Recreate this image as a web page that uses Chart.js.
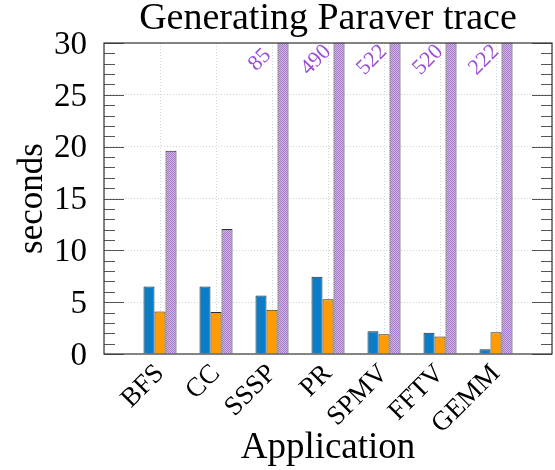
<!DOCTYPE html>
<html>
<head>
<meta charset="utf-8">
<script src="https://cdn.jsdelivr.net/npm/chart.js@4/dist/chart.umd.min.js"></script>
<style>
  html, body { margin: 0; padding: 0; background: #fff; }
  #wrap { width: 555px; height: 470px; }
</style>
</head>
<body>
<div id="wrap"><canvas id="c" width="555" height="470"></canvas></div>
<script>
// Applications on the x axis
const applications = ['BFS', 'CC', 'SSSP', 'PR', 'SPMV', 'FFTV', 'GEMM'];
// Time per application (seconds), three measurements each
const seriesBlue   = [6.5, 6.5, 5.65, 7.45, 2.2, 2.05, 0.45];
const seriesOrange = [4.1, 4.05, 4.27, 5.27, 1.9, 1.7, 2.1];
const seriesPurple = [19.6, 12.05, 85, 490, 522, 520, 222];
// y axis range and major ticks
const yMin = 0, yMax = 30;
const yMajorTicks = [0, 5, 10, 15, 20, 25, 30];

const SERIF = '"Liberation Serif", "Times New Roman", serif';

// Pad the category list with an empty slot on each side so the groups sit inside the frame
const paddedLabels = [''].concat(applications, ['']);
const pad = arr => [null].concat(arr, [null]);

// Dotted lavender fill for the third series
function makePattern() {
  const p = document.createElement('canvas');
  p.width = 2; p.height = 2;
  const g = p.getContext('2d');
  g.fillStyle = '#d3b5ea';
  g.fillRect(0, 0, 2, 2);
  g.fillStyle = '#a47ac9';
  g.fillRect(0, 0, 1, 1);
  g.fillRect(1, 1, 1, 1);
  return document.getElementById('c').getContext('2d').createPattern(p, 'repeat');
}

// Frame, inward minor/major ticks on both vertical sides
const framePlugin = {
  id: 'frame',
  afterDatasetsDraw(chart) {
    const { ctx, chartArea: a, scales } = chart;
    const y = scales.y;
    ctx.save();
    ctx.strokeStyle = '#555';
    ctx.lineWidth = 1.2;
    for (let v = yMin; v <= yMax; v++) {
      const py = Math.round(y.getPixelForValue(v)) + 0.5;
      const len = (v % 5 === 0) ? 20 : 11;
      ctx.beginPath();
      ctx.moveTo(a.left, py); ctx.lineTo(a.left + len, py);
      ctx.moveTo(a.right, py); ctx.lineTo(a.right - len, py);
      ctx.stroke();
    }
    ctx.strokeStyle = '#333';
    ctx.lineWidth = 1.2;
    ctx.strokeRect(a.left, a.top, a.right - a.left, a.bottom - a.top);
    ctx.restore();
  }
};

// Value labels for bars that run past the top of the axis
const overflowLabels = {
  id: 'overflowLabels',
  afterDatasetsDraw(chart) {
    const { ctx, chartArea: a } = chart;
    const meta = chart.getDatasetMeta(2);
    const data = chart.data.datasets[2].data;
    ctx.save();
    ctx.fillStyle = '#9b4fd4';
    ctx.font = '22px ' + SERIF;
    ctx.textAlign = 'center';
    ctx.textBaseline = 'middle';
    meta.data.forEach((bar, i) => {
      const v = data[i];
      if (v == null || v <= yMax) return;
      ctx.save();
      ctx.translate(bar.x - 23, a.top + 17);
      ctx.rotate(-Math.PI / 4);
      ctx.fillText(String(v), 0, 0);
      ctx.restore();
    });
    ctx.restore();
  }
};

const barCommon = {
  borderColor: '#2b2b2b',
  borderWidth: 1,
  barPercentage: 1,
  categoryPercentage: 0.59
};

new Chart(document.getElementById('c'), {
  type: 'bar',
  data: {
    labels: paddedLabels,
    datasets: [
      Object.assign({ label: 'Series 1', data: pad(seriesBlue), backgroundColor: '#0a7dc6' }, barCommon),
      Object.assign({ label: 'Series 2', data: pad(seriesOrange), backgroundColor: '#ff9b05' }, barCommon),
      Object.assign({ label: 'Series 3', data: pad(seriesPurple), backgroundColor: makePattern() }, barCommon)
    ]
  },
  options: {
    responsive: false,
    animation: false,
    layout: { padding: { left: 0, right: 3, top: 0, bottom: 0 } },
    plugins: {
      legend: { display: false },
      tooltip: { enabled: false },
      title: {
        display: true,
        fullSize: false,
        text: 'Generating Paraver trace',
        color: '#000',
        font: { family: SERIF, size: 38, weight: 'normal', lineHeight: 1.0 },
        padding: { top: 0, bottom: 5 }
      }
    },
    scales: {
      x: {
        type: 'category',
        offset: false,
        grid: { offset: false, color: '#d4d4d4', drawTicks: false },
        border: { display: false, dash: [1, 2] },
        ticks: {
          autoSkip: false,
          minRotation: 45,
          maxRotation: 45,
          padding: 4,
          color: '#000',
          font: { family: SERIF, size: 27 }
        },
        title: {
          display: true,
          text: 'Application',
          color: '#000',
          font: { family: SERIF, size: 37 },
          padding: { top: 0, bottom: 0 }
        },
        afterFit(scale) {
          scale.height = 116;
          scale.paddingLeft = 0;
          scale.paddingRight = 0;
        }
      },
      y: {
        min: yMin,
        max: yMax,
        afterBuildTicks(scale) { scale.ticks = yMajorTicks.map(v => ({ value: v })); },
        grid: { color: ctx => (ctx.tick && ctx.tick.value > yMin && ctx.tick.value < yMax) ? '#d4d4d4' : 'rgba(0,0,0,0)', drawTicks: false },
        border: { display: false, dash: [1, 2] },
        ticks: {
          padding: 17,
          labelOffset: 2,
          color: '#000',
          font: { family: SERIF, size: 33 }
        },
        title: {
          display: true,
          text: 'seconds',
          color: '#000',
          font: { family: SERIF, size: 35 },
          padding: { top: 12, bottom: 0 }
        },
        afterFit(scale) { scale.width = 104; }
      }
    }
  },
  plugins: [framePlugin, overflowLabels]
});
</script>
</body>
</html>
